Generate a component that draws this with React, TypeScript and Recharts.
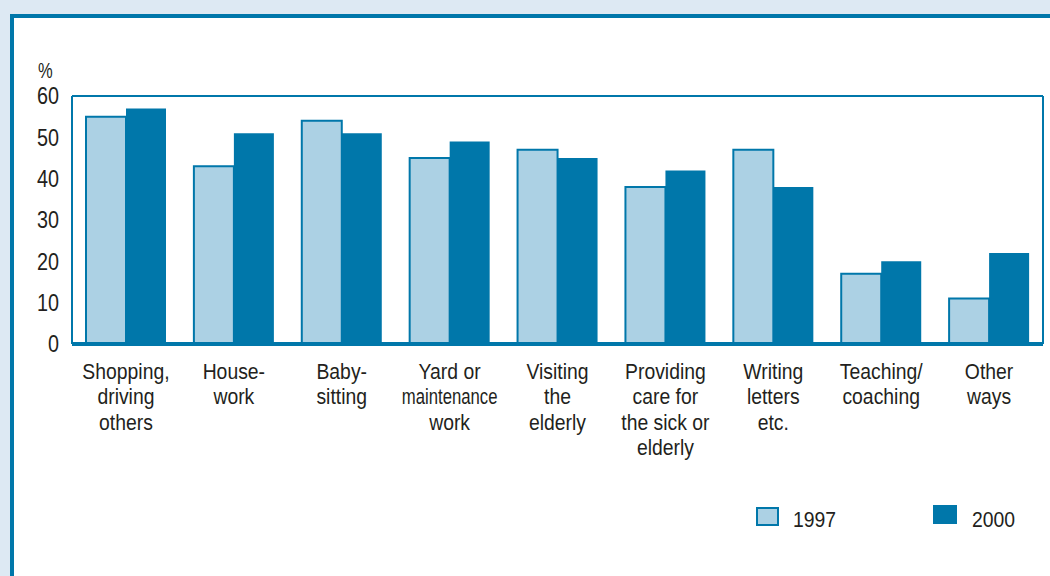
import React from 'react';
import { BarChart, Bar, XAxis, YAxis, CartesianGrid, ReferenceLine } from 'recharts';

const categories: string[][] = [
  ['Shopping,', 'driving', 'others'],
  ['House-', 'work'],
  ['Baby-', 'sitting'],
  ['Yard or', 'maintenance', 'work'],
  ['Visiting', 'the', 'elderly'],
  ['Providing', 'care for', 'the sick or', 'elderly'],
  ['Writing', 'letters', 'etc.'],
  ['Teaching/', 'coaching'],
  ['Other', 'ways'],
];
const values1997 = [55, 43, 54, 45, 47, 38, 47, 17, 11];
const values2000 = [57, 51, 51, 49, 45, 42, 38, 20, 22];
const yTicks = [0, 10, 20, 30, 40, 50, 60];
const seriesNames = ['1997', '2000'];

const DARK = '#0077aa';
const LIGHT = '#acd1e4';
const GRID = '#7db9d8';
const TEXT = '#231f20';
const FONT = '"Liberation Sans", Arial, sans-serif';
const SQX = 0.88;
const lineSquash: Record<string, number> = { maintenance: 0.76 };

const data = categories.map((c, i) => ({
  key: String(i),
  v1997: values1997[i],
  v2000: values2000[i],
}));

const XTick = (props: any) => {
  const { x, y, payload } = props;
  const lines = categories[Number(payload.value)] || [];
  return (
    <g transform={`translate(${x},${y})`}>
      {lines.map((l, i) => (
        <text
          key={i}
          x={0}
          y={0}
          transform={`translate(0,${26.5 + i * 25.5}) scale(${lineSquash[l] ?? SQX},1)`}
          textAnchor="middle"
          fill={TEXT}
          fontSize={22}
          fontFamily={FONT}
        >
          {l}
        </text>
      ))}
    </g>
  );
};

const YTick = (props: any) => {
  const { x, y, payload } = props;
  return (
    <text
      x={0}
      y={0}
      dy="0.355em"
      transform={`translate(${x},${y}) scale(0.86,1)`}
      textAnchor="end"
      fill={TEXT}
      fontSize={23}
      fontFamily={FONT}
    >
      {payload.value}
    </text>
  );
};

const htmlText = (extra: React.CSSProperties): React.CSSProperties => ({
  position: 'absolute',
  fontSize: 22,
  lineHeight: '28px',
  color: TEXT,
  fontFamily: FONT,
  transform: `scaleX(${SQX})`,
  transformOrigin: 'left center',
  whiteSpace: 'nowrap',
  ...extra,
});

export default function App() {
  return (
    <div style={{ position: 'absolute', left: 0, top: 0, width: 1050, height: 576, background: '#dde9f3', overflow: 'hidden', fontFamily: FONT }}>
      <div style={{ position: 'absolute', left: 10, top: 14, width: 1060, height: 580, background: '#fff', borderLeft: `4px solid ${DARK}`, borderTop: `4px solid ${DARK}`, boxSizing: 'border-box' }} />
      <div style={htmlText({ left: 38, top: 57, transform: 'scaleX(0.75)' })}>%</div>
      <div style={{ position: 'absolute', left: 0, top: 0 }}>
        <BarChart
          width={1050}
          height={576}
          data={data}
          margin={{ top: 96, right: 0, left: 0, bottom: 0 }}
          barCategoryGap={14}
          barGap={0}
        >
          <CartesianGrid vertical={false} stroke={GRID} strokeWidth={2} strokeOpacity={1} />
          <XAxis
            dataKey="key"
            height={232}
            axisLine={{ stroke: DARK, strokeWidth: 4 }}
            tickLine={false}
            tick={<XTick />}
            interval={0}
          />
          <YAxis
            yAxisId="left"
            width={72}
            domain={[0, 60]}
            ticks={yTicks}
            axisLine={{ stroke: DARK, strokeWidth: 2 }}
            tickLine={false}
            tickMargin={7}
            tick={<YTick />}
            allowDataOverflow
          />
          <YAxis
            yAxisId="right"
            orientation="right"
            width={7}
            domain={[0, 60]}
            ticks={yTicks}
            axisLine={{ stroke: DARK, strokeWidth: 2 }}
            tickLine={false}
            tick={false}
          />
          <ReferenceLine yAxisId="left" y={60} stroke={DARK} strokeWidth={2} />
          <Bar yAxisId="left" dataKey="v1997" name={seriesNames[0]} fill={LIGHT} stroke={DARK} strokeWidth={2} isAnimationActive={false} />
          <Bar yAxisId="left" dataKey="v2000" name={seriesNames[1]} fill={DARK} isAnimationActive={false} />
        </BarChart>
      </div>
      <div style={{ position: 'absolute', left: 756, top: 507, width: 23, height: 19, boxSizing: 'border-box', background: LIGHT, border: `2px solid ${DARK}` }} />
      <div style={htmlText({ left: 793, top: 506 })}>{seriesNames[0]}</div>
      <div style={{ position: 'absolute', left: 933, top: 505, width: 24, height: 19, background: DARK }} />
      <div style={htmlText({ left: 972, top: 506 })}>{seriesNames[1]}</div>
    </div>
  );
}
